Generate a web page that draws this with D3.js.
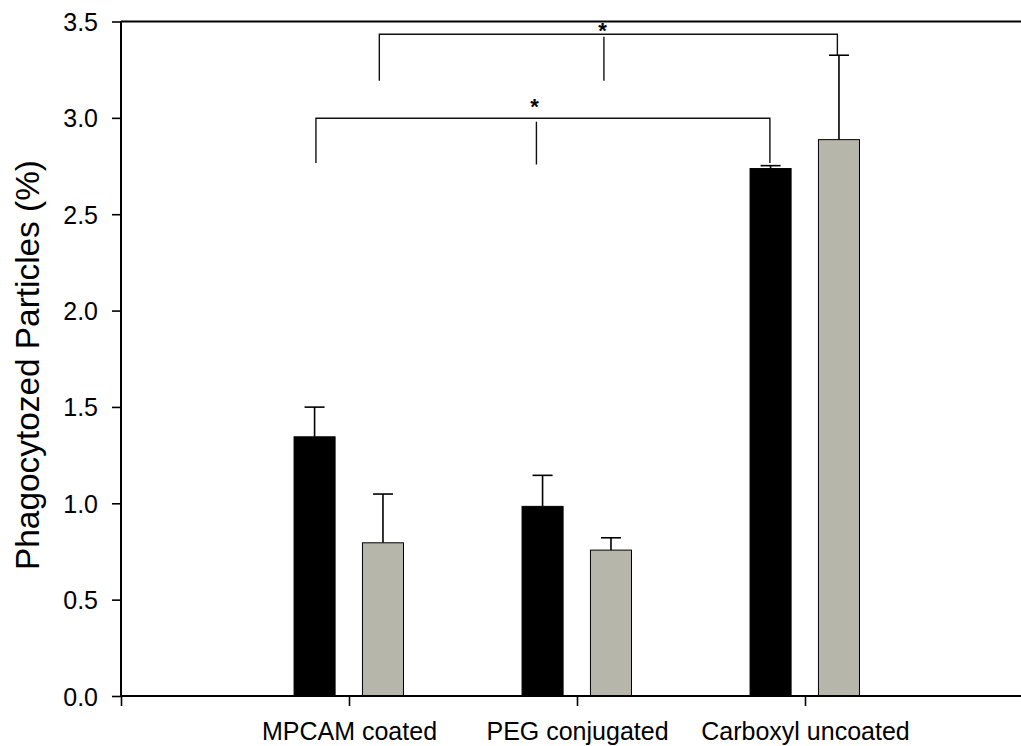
<!DOCTYPE html>
<html>
<head>
<meta charset="utf-8">
<script src="https://cdn.jsdelivr.net/npm/d3@7"></script>
<style>
  html, body { margin: 0; padding: 0; background: #fff; }
  svg { display: block; }
  text { font-family: "Liberation Sans", Arial, sans-serif; fill: #000; }
</style>
</head>
<body>
<svg id="chart" width="1021" height="746"></svg>
<script>
// ---- data ----
const categories = ["MPCAM coated", "PEG conjugated", "Carboxyl uncoated"];
const categoryPositions = [1, 2, 3];
const seriesNames = ["Series A", "Series B"];
const seriesColors = ["#000000", "#b6b6aa"];
const valuesA = [1.345, 0.984, 2.737];
const errorsA = [0.154, 0.161, 0.015];
const valuesB = [0.795, 0.757, 2.887];
const errorsB = [0.253, 0.064, 0.438];
const yTicks = [0.0, 0.5, 1.0, 1.5, 2.0, 2.5, 3.0, 3.5];
const yLabel = "Phagocytozed Particles (%)";
// significance brackets (x in category units, y in data units)
const bracketLeft  = [0.855, 1.133];
const bracketRight = [2.846, 3.142];
const bracketMid   = [1.822, 2.118];
const bracketTop   = [2.998, 3.434];
const bracketLeftBottom  = [2.766, 3.193];
const bracketRightBottom = [2.766, 3.323];
const bracketMidTop      = [2.980, 3.421];
const bracketMidBottom   = [2.758, 3.193];
const starX = [1.814, 2.112];
const starY = [3.020, 3.415];
const starText = ["*", "*"];

// ---- layout ----
const svg = d3.select("#chart");
const x = d3.scaleLinear().domain([0, 4]).range([121, 1033]);
const y = d3.scaleLinear().domain([0, 3.5]).range([696, 21.5]);
const seriesOffset = [-0.151, 0.149];
const barW = x(0.18) - x(0);
const capW = 20;
const FONT = '"Liberation Sans", Arial, sans-serif';

const series = [
  { values: valuesA, errors: errorsA, color: seriesColors[0], offset: seriesOffset[0] },
  { values: valuesB, errors: errorsB, color: seriesColors[1], offset: seriesOffset[1] }
];

// top frame line
svg.append("line")
  .attr("x1", x(0)).attr("x2", x(4))
  .attr("y1", y(3.5)).attr("y2", y(3.5))
  .attr("stroke", "#000").attr("stroke-width", 2);

// error bars
series.forEach(s => {
  const g = svg.append("g");
  s.values.forEach((v, i) => {
    const cx = x(categoryPositions[i] + s.offset);
    const top = y(v + s.errors[i]);
    g.append("line").attr("x1", cx).attr("x2", cx)
      .attr("y1", y(v)).attr("y2", top)
      .attr("stroke", "#000").attr("stroke-width", 1.6);
    g.append("line").attr("x1", cx - capW / 2).attr("x2", cx + capW / 2)
      .attr("y1", top).attr("y2", top)
      .attr("stroke", "#000").attr("stroke-width", 1.6);
  });
});

// bars
series.forEach(s => {
  svg.append("g").selectAll("rect")
    .data(s.values)
    .join("rect")
    .attr("x", (d, i) => x(categoryPositions[i] + s.offset) - barW / 2)
    .attr("width", barW)
    .attr("y", d => y(d))
    .attr("height", d => y(0) - y(d))
    .attr("fill", s.color)
    .attr("stroke", "#000")
    .attr("stroke-width", 1);
});

// y axis
const yAxis = d3.axisLeft(y).tickValues(yTicks).tickFormat(d3.format(".1f"))
  .tickSize(9).tickPadding(14);
const yg = svg.append("g").attr("transform", `translate(${x(0)},0)`).call(yAxis);
yg.attr("font-family", FONT).attr("font-size", 25);
yg.select(".domain").attr("stroke-width", 2).attr("d", `M0,${y(0)}V${y(3.5)}`);
yg.selectAll(".tick line").attr("stroke-width", 1.6);
yg.selectAll(".tick text").attr("dy", "0.36em");

// x axis
const xAxis = d3.axisBottom(x).tickValues([0].concat(categoryPositions))
  .tickFormat(d => d === 0 ? "" : categories[categoryPositions.indexOf(d)])
  .tickSize(10).tickPadding(16);
const xg = svg.append("g").attr("transform", `translate(0,${y(0)})`).call(xAxis);
xg.attr("font-family", FONT).attr("font-size", 25);
xg.select(".domain").attr("stroke-width", 2).attr("d", `M${x(0)},0H${x(4)}`);
xg.selectAll(".tick line").attr("stroke-width", 1.6);
xg.selectAll(".tick text").attr("dy", "0.72em");

// y label
svg.append("text")
  .attr("transform", `translate(39,${(160 + 570) / 2}) rotate(-90)`)
  .attr("text-anchor", "middle")
  .style("font-size", "33px")
  .attr("textLength", 410)
  .attr("lengthAdjust", "spacingAndGlyphs")
  .text(yLabel);

// significance brackets
const bg = svg.append("g").attr("stroke", "#111").attr("stroke-width", 1.4).attr("fill", "none");
bracketTop.forEach((t, i) => {
  bg.append("path").attr("d",
    `M${x(bracketLeft[i])},${y(bracketLeftBottom[i])}V${y(t)}H${x(bracketRight[i])}V${y(bracketRightBottom[i])}`);
  bg.append("line")
    .attr("x1", x(bracketMid[i])).attr("x2", x(bracketMid[i]))
    .attr("y1", y(bracketMidTop[i])).attr("y2", y(bracketMidBottom[i]));
});
svg.append("g").selectAll("text")
  .data(starText)
  .join("text")
  .attr("x", (d, i) => x(starX[i]))
  .attr("y", (d, i) => y(starY[i]))
  .attr("text-anchor", "middle")
  .style("font-size", "22px")
  .style("font-weight", "bold")
  .text(d => d);
</script>
</body>
</html>
